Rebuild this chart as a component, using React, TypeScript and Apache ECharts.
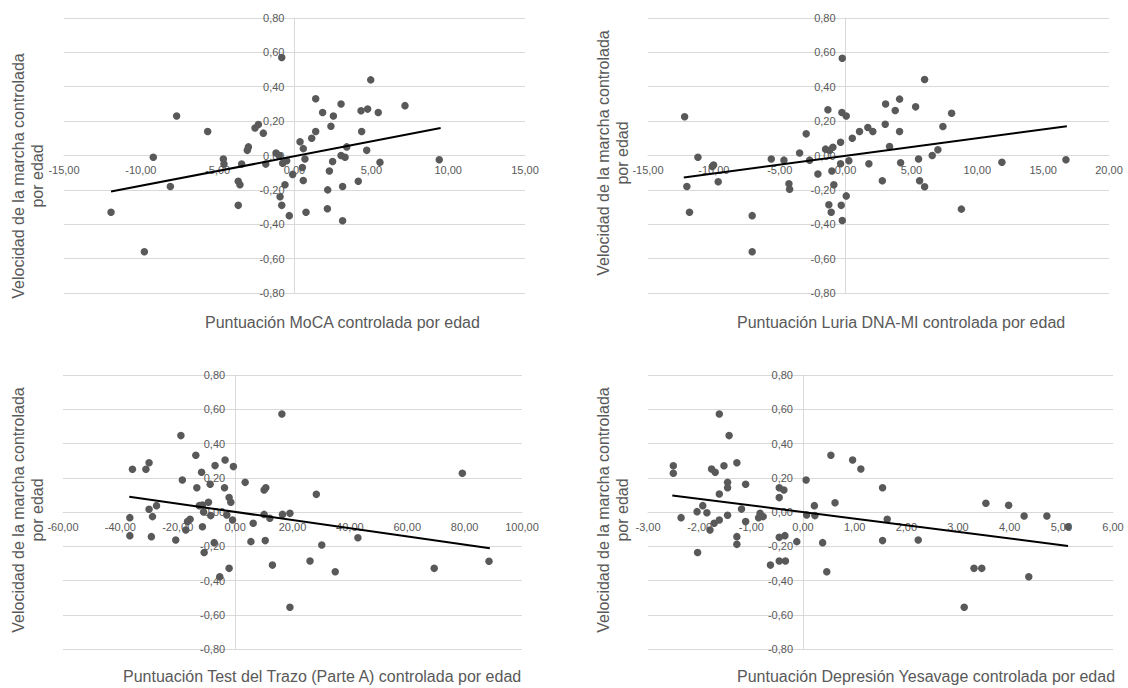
import React, { useEffect, useRef } from "react";
import * as echarts from "echarts";

// ---- Data ----
const mocaPoints: number[][] = [
  [-11.94, -0.33], [-9.77, -0.56], [-9.19, -0.01], [-7.67, 0.23], [-8.08, -0.18],
  [-5.65, 0.14], [-4.63, -0.02], [-4.59, -0.05], [-3.44, -0.05], [-3.66, -0.15],
  [-3.55, -0.17], [-3.66, -0.29], [-3.07, 0.03], [-3.0, 0.05], [-2.57, 0.16],
  [-2.35, 0.18], [-2.03, 0.13], [-1.87, -0.05], [-1.2, 0.015], [-0.83, 0.57],
  [-0.94, -0.24], [-0.83, -0.29], [-0.62, -0.17], [-0.34, -0.35], [-0.77, -0.045],
  [-0.99, 0.0], [-0.51, -0.03], [-0.12, -0.11], [0.36, 0.08], [0.57, 0.04],
  [0.68, -0.02], [0.51, -0.07], [0.57, -0.145], [0.75, -0.33], [1.12, 0.1],
  [1.38, 0.14], [1.38, 0.33], [1.83, 0.25], [2.37, 0.17], [2.53, 0.23],
  [2.48, -0.035], [2.27, -0.09], [2.16, -0.2], [2.14, -0.31], [3.03, 0.3],
  [3.03, 0.0], [3.29, -0.01], [3.4, 0.05], [3.13, -0.18], [3.13, -0.38],
  [4.15, -0.15], [4.33, 0.26], [4.76, 0.27], [4.37, 0.14], [4.7, 0.03],
  [4.96, 0.44], [5.45, 0.25], [5.56, -0.04], [7.19, 0.29], [9.42, -0.025],
];
const mocaTrend: number[][] = [[-11.94, -0.21], [9.51, 0.16]];

const luriaPoints: number[][] = [
  [-12.22, 0.225], [-12.05, -0.18], [-11.85, -0.33], [-11.21, -0.01], [-10.12, -0.064],
  [-10.02, -0.055], [-9.67, -0.153], [-7.09, -0.35], [-7.09, -0.56], [-5.64, -0.02],
  [-4.68, -0.027], [-4.3, -0.165], [-4.25, -0.196], [-3.49, 0.015], [-2.99, 0.126],
  [-2.73, -0.027], [-2.1, -0.108], [-1.52, 0.037], [-1.34, 0.266], [-1.21, 0.03],
  [-0.96, 0.048], [-1.04, -0.09], [-0.89, -0.17], [-1.27, -0.287], [-1.09, -0.33],
  [-0.33, -0.29], [-0.25, -0.378], [-0.25, 0.566], [-0.28, 0.25], [0.05, 0.23],
  [-0.38, 0.077], [-0.38, -0.048], [0.05, -0.235], [0.25, -0.031], [0.51, 0.1],
  [1.06, 0.14], [1.69, 0.163], [2.07, 0.14], [1.77, -0.048], [2.79, -0.147],
  [3.04, 0.3], [3.01, 0.182], [3.34, 0.052], [3.77, 0.262], [4.1, 0.328],
  [4.1, 0.14], [4.18, -0.042], [5.32, 0.283], [6.0, 0.442], [5.54, -0.02],
  [5.62, -0.147], [6.0, -0.182], [6.58, 0.0], [7.01, 0.033], [7.39, 0.169],
  [8.05, 0.246], [8.79, -0.312], [11.87, -0.039], [16.73, -0.025],
];
const luriaTrend: number[][] = [[-12.28, -0.128], [16.8, 0.17]];

const trazoPoints: number[][] = [
  [-35.8, 0.25], [-36.7, -0.033], [-36.7, -0.138], [-31.1, 0.25], [-30.0, 0.288],
  [-30.0, 0.016], [-28.8, -0.027], [-29.2, -0.144], [-27.4, 0.037], [-20.7, -0.164],
  [-18.9, 0.446], [-18.4, 0.187], [-17.2, -0.105], [-16.6, -0.056], [-15.7, -0.043],
  [-13.7, 0.331], [-13.35, 0.142], [-12.5, 0.037], [-11.7, 0.232], [-11.4, 0.041],
  [-11.0, 0.0], [-11.4, -0.086], [-10.8, -0.236], [-9.3, 0.057], [-8.7, 0.162],
  [-8.5, -0.021], [-7.0, 0.271], [-7.3, -0.179], [-5.35, -0.378], [-3.7, 0.142],
  [-3.5, 0.304], [-2.9, -0.018], [-2.1, 0.084], [-1.5, 0.057], [-0.6, 0.265],
  [-0.9, -0.047], [-2.1, -0.329], [3.5, 0.173], [6.3, -0.066], [5.5, -0.173],
  [10.1, 0.128], [10.7, 0.142], [10.1, -0.014], [12.1, -0.037], [10.5, -0.167],
  [13.0, -0.31], [16.3, 0.572], [16.5, -0.014], [19.1, -0.008], [19.1, -0.556],
  [28.3, 0.103], [26.1, -0.286], [30.2, -0.193], [34.9, -0.349], [42.8, -0.15],
  [69.4, -0.329], [79.2, 0.226], [88.5, -0.288],
];
const trazoTrend: number[][] = [[-36.9, 0.089], [88.8, -0.212]];

const yesavagePoints: number[][] = [
  [-2.51, 0.27], [-2.51, 0.226], [-2.36, -0.033], [-2.04, -0.236], [-2.05, 0.002],
  [-1.94, 0.037], [-1.86, -0.004], [-1.8, -0.105], [-1.77, 0.251], [-1.7, 0.232],
  [-1.72, -0.066], [-1.62, -0.047], [-1.62, 0.105], [-1.62, 0.572], [-1.53, 0.27],
  [-1.46, 0.173], [-1.46, 0.142], [-1.43, 0.446], [-1.46, -0.019], [-1.28, 0.288],
  [-1.19, 0.017], [-1.28, -0.144], [-1.28, -0.189], [-1.11, 0.162], [-1.11, -0.056],
  [-0.83, -0.008], [-0.86, -0.033], [-0.77, -0.027], [-0.63, -0.31], [-0.46, -0.286],
  [-0.34, -0.286], [-0.46, 0.142], [-0.37, 0.128], [-0.46, 0.084], [-0.46, -0.148],
  [-0.35, -0.138], [-0.12, -0.173], [0.06, 0.187], [0.07, -0.018], [0.22, 0.037],
  [0.23, -0.021], [0.38, -0.179], [0.46, -0.349], [0.54, 0.331], [0.62, 0.054],
  [0.96, 0.304], [1.12, 0.251], [1.54, 0.142], [1.63, -0.043], [1.54, -0.167],
  [2.23, -0.164], [3.12, -0.556], [3.31, -0.329], [3.46, -0.329], [3.54, 0.051],
  [3.98, 0.039], [4.37, -0.378], [4.28, -0.023], [4.72, -0.023], [5.13, -0.086],
];
const yesavageTrend: number[][] = [[-2.53, 0.097], [5.13, -0.198]];

const xMins = [-15, -15, -60, -3];
const xMaxs = [15, 20, 100, 6];
const xIntervals = [5, 5, 20, 1];
const yMin = -0.8;
const yMax = 0.8;
const yInterval = 0.2;

const xTitles = [
  "Puntuación MoCA controlada por edad",
  "Puntuación Luria DNA-MI controlada por edad",
  "Puntuación Test del Trazo (Parte A) controlada por edad",
  "Puntuación Depresión Yesavage controlada por edad",
];
const yTitle = "Velocidad de la marcha controlada\npor edad";

const pointsList = [mocaPoints, luriaPoints, trazoPoints, yesavagePoints];
const trendList = [mocaTrend, luriaTrend, trazoTrend, yesavageTrend];

// ---- Layout ----
const grids = [
  { left: 64, top: 18, width: 461, height: 275 },
  { left: 648, top: 18, width: 461, height: 275 },
  { left: 63, top: 375, width: 459, height: 274 },
  { left: 648, top: 375, width: 465, height: 274 },
];
const xTitlePos = [
  [205, 322],
  [737, 322],
  [123, 676],
  [737, 676],
];
const yTitlePos = [
  [28, 176],
  [613, 153],
  [28, 510],
  [613, 510],
];

const TEXT = "#595959";
const GRIDC = "#d9d9d9";
const FONT = '"Liberation Sans", Arial, sans-serif';

const fmt = (v: number) => (Math.abs(v) < 1e-9 ? 0 : v).toFixed(2).replace(".", ",");

export default function App() {
  const ref = useRef<HTMLDivElement>(null);
  useEffect(() => {
    if (!ref.current) return;
    const chart = echarts.init(ref.current, undefined, { renderer: "svg" });
    // Place each axis where the other axis' value is zero (Excel style crossing).
    const xAxis = grids.map((g, i) => {
      const zeroFromBottom = ((0 - yMin) / (yMax - yMin)) * g.height;
      return {
        gridIndex: i,
        type: "value",
        min: xMins[i],
        max: xMaxs[i],
        interval: xIntervals[i],
        position: "bottom",
        offset: -zeroFromBottom,
        axisLine: { show: true, onZero: false, lineStyle: { color: GRIDC, width: 1 } },
        axisTick: { show: false },
        splitLine: { show: false },
        axisLabel: { color: TEXT, fontSize: 11, fontFamily: FONT, margin: 9, formatter: fmt },
      };
    });
    const yAxis = grids.map((g, i) => {
      const zeroFromLeft = ((0 - xMins[i]) / (xMaxs[i] - xMins[i])) * g.width;
      return {
        gridIndex: i,
        type: "value",
        min: yMin,
        max: yMax,
        interval: yInterval,
        position: "left",
        offset: -zeroFromLeft,
        axisLine: { show: true, onZero: false, lineStyle: { color: GRIDC, width: 1 } },
        axisTick: { show: false },
        splitLine: { show: true, lineStyle: { color: GRIDC, width: 1 } },
        axisLabel: { color: TEXT, fontSize: 11, fontFamily: FONT, margin: 10, formatter: fmt },
      };
    });
    const series: any[] = [];
    pointsList.forEach((pts, i) => {
      series.push({
        type: "scatter",
        xAxisIndex: i,
        yAxisIndex: i,
        data: pts,
        symbolSize: 7.5,
        itemStyle: { color: "#595959", opacity: 1 },
        z: 2,
      });
      series.push({
        type: "line",
        xAxisIndex: i,
        yAxisIndex: i,
        data: trendList[i],
        symbol: "none",
        showSymbol: false,
        lineStyle: { color: "#000000", width: 2 },
        z: 3,
      });
    });
    const graphic: any[] = [];
    xTitles.forEach((t, i) => {
      graphic.push({
        type: "text",
        x: xTitlePos[i][0],
        y: xTitlePos[i][1],
        style: {
          text: t,
          fill: TEXT,
          fontSize: 16,
          fontFamily: FONT,
          align: "left",
          verticalAlign: "middle",
        },
      });
      graphic.push({
        type: "text",
        x: yTitlePos[i][0],
        y: yTitlePos[i][1],
        rotation: Math.PI / 2,
        style: {
          text: yTitle,
          fill: TEXT,
          fontSize: 16,
          fontFamily: FONT,
          align: "center",
          verticalAlign: "middle",
          lineHeight: 19,
        },
      });
    });
    chart.setOption({
      animation: false,
      backgroundColor: "#ffffff",
      grid: grids.map((g) => ({ ...g, containLabel: false })),
      xAxis,
      yAxis,
      series,
      graphic,
    });
    return () => chart.dispose();
  }, []);
  return (
    <div
      ref={ref}
      style={{ position: "fixed", left: 0, top: 0, width: 1128, height: 688 }}
    />
  );
}
